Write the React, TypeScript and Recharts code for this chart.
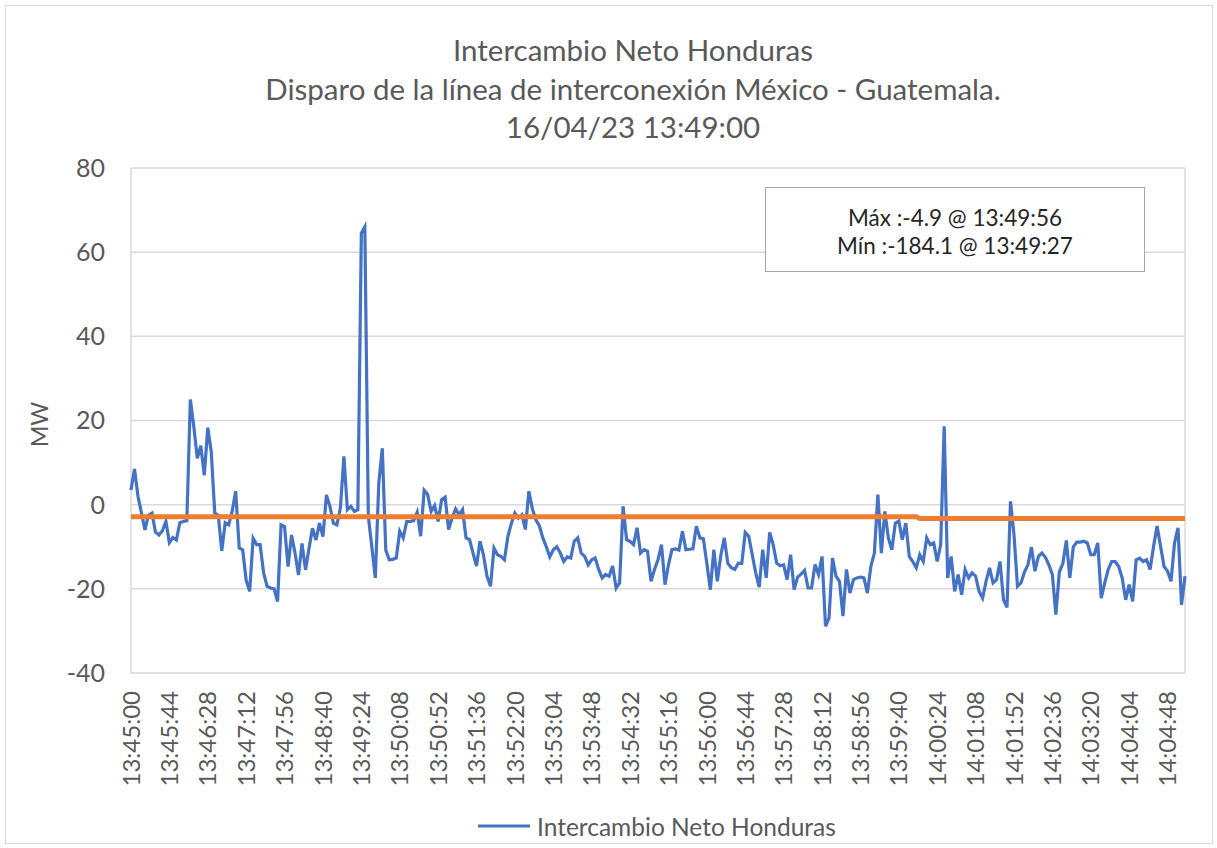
import { LineChart, Line, XAxis, YAxis, CartesianGrid } from "recharts";

// samples every 4 s starting 13:45:00
const START_SECONDS = 13 * 3600 + 45 * 60;
const STEP_SECONDS = 4;

const NETO_HN = [
  3.5, 8.5, 2, -2, -6, -2.5, -2, -6.5, -7.2, -6.2,
  -4, -9, -7.8, -8.4, -4.3, -4, -3.8, 25, 18.5, 11,
  14, 7, 18.3, 12.5, -2, -2.5, -11, -4.3, -4.8, -1.5,
  3.2, -10.3, -10.7, -18, -20.6, -8, -9.5, -9.5, -16.2, -19.4,
  -19.8, -20, -23, -4.8, -5.2, -14.7, -7.2, -11.5, -16.7, -9.2,
  -15.5, -10.4, -5.6, -8.4, -4.4, -7.6, 2.3, -0.4, -4.4, -4.8,
  -0.8, 11.5, -1.2, -0.4, -1.6, -1.2, 64.5, 66, -2.8, -10,
  -17.4, 5.1, 13.4, -10.8, -13.1, -13, -12.7, -6.3, -7.9, -4,
  -4, -3.8, -1.8, -7.5, 3.4, 2.4, -1.6, -0.2, -4, 1.2,
  1.8, -5.9, -3.2, -1, -2.4, -1.2, -7.9, -8.3, -11.5, -14.6,
  -8.7, -12, -17, -19.4, -10.3, -11.9, -12.3, -13.1, -7.5, -4.4,
  -2, -3.2, -2.4, -5.9, 3.2, -1, -3.6, -5, -7.9, -10,
  -12.4, -10.7, -10, -11.5, -13.5, -12.4, -12.7, -8.7, -7.9, -11.5,
  -12.3, -14.3, -13.1, -12.7, -15.4, -17.4, -16.6, -17, -14.6, -19.8,
  -18.6, -0.4, -8.3, -8.7, -9.5, -5.5, -11.5, -10.7, -11.1, -18.2,
  -15.4, -13.1, -9.5, -19, -14.3, -10.7, -10.5, -10.8, -6.3, -10.7,
  -10.6, -10.5, -5.1, -7.9, -8.1, -14, -20.2, -10.7, -18.2, -12,
  -7.9, -13.9, -15, -15.4, -13.9, -14, -6.6, -7.5, -11.9, -16.2,
  -19.6, -10.7, -17.4, -6.6, -9.5, -13.9, -14.5, -14.3, -17.8, -11.9,
  -20.2, -17.2, -16.5, -15.6, -19.8, -19.8, -14.2, -16.6, -12.3, -28.9,
  -26.9, -12.7, -17, -18.2, -26.5, -15.4, -21, -17.8, -17.4, -17.2,
  -17.4, -21, -14.6, -11.5, 2.4, -11.5, -1.6, -7.9, -10.7, -4.4,
  -3.9, -8.3, -4.4, -12.3, -13.5, -15, -11.9, -13.5, -7.9, -9.5,
  -9.1, -13.5, -9.5, 18.6, -17.4, -12.3, -20.6, -16.6, -21.4, -15.4,
  -17.4, -16.2, -17, -20.6, -22.2, -18.2, -15, -18.6, -17.8, -13.5,
  -22.6, -24.4, 0.8, -7.1, -19.4, -18.6, -16, -14.3, -10.1, -15.8,
  -12.3, -11.5, -12.5, -14.3, -16.6, -26.1, -16, -14, -8.5, -17.4,
  -10, -8.9, -8.9, -8.7, -9.1, -11.9, -11.9, -9.1, -22.2, -18.6,
  -15.4, -13.5, -13.5, -14.7, -17.4, -22.6, -19, -23, -13.1, -12.7,
  -13.5, -13.1, -15.4, -9.9, -5.1, -9.9, -14.7, -15.8, -18.2, -9.1,
  -5.5, -23.8, -17,
];

// orange reference level, steps slightly at 14:00:04
const REF_LEVELS = [-2.9, -3.3];
const REF_SWITCH_INDEX = 226;

const Y_TICKS = [-40, -20, 0, 20, 40, 60, 80];

const TITLE_LINES = [
  "Intercambio Neto Honduras",
  "Disparo de la línea de interconexión México - Guatemala.",
  "16/04/23 13:49:00",
];
const STATS_LINES = ["Máx :-4.9 @ 13:49:56", "Mín :-184.1 @ 13:49:27"];
const SERIES_NAME = "Intercambio Neto Honduras";

const FONT = "Lato, 'Noto Sans', sans-serif";
const TEXT = "#595959";
const GRID = "#d9d9d9";
const BLUE = "#4472c4";
const ORANGE = "#ed7d31";

const pad = (n: number) => String(n).padStart(2, "0");
function fmtTime(sec: number) {
  const h = Math.floor(sec / 3600);
  const m = Math.floor((sec % 3600) / 60);
  const s = sec % 60;
  return `${pad(h)}:${pad(m)}:${pad(s)}`;
}

const data = NETO_HN.map((v, i) => ({
  time: fmtTime(START_SECONDS + i * STEP_SECONDS),
  neto: v,
  ref: i < REF_SWITCH_INDEX ? REF_LEVELS[0] : REF_LEVELS[1],
}));

function TimeTick(props: any) {
  const { x, y, payload } = props;
  return (
    <g transform={`translate(${x},${y})`}>
      <text
        transform="rotate(-90)"
        x={-18}
        dy="0.36em"
        textAnchor="end"
        fill={TEXT}
        fontSize={24}
        fontFamily={FONT}
      >
        {payload.value}
      </text>
    </g>
  );
}

function MwLabel(props: any) {
  const vb = props.viewBox || { x: 31, y: 168, width: 100, height: 505 };
  const cx = vb.x + 9;
  const cy = vb.y + vb.height / 2 + 4;
  return (
    <text
      x={cx}
      y={cy}
      transform={`rotate(-90 ${cx} ${cy})`}
      textAnchor="middle"
      dy="0.36em"
      fill={TEXT}
      fontSize={23}
      fontFamily={FONT}
    >
      MW
    </text>
  );
}

export default function App() {
  return (
    <div
      style={{
        position: "absolute",
        left: 0,
        top: 0,
        width: 1217,
        height: 848,
        background: "#fff",
        fontFamily: FONT,
      }}
    >
      <div
        style={{
          position: "absolute",
          left: 5,
          top: 5,
          width: 1206,
          height: 837,
          border: `1px solid ${GRID}`,
        }}
      />
      <LineChart
        width={1217}
        height={848}
        data={data}
        margin={{ top: 168, right: 32, bottom: 55, left: 31 }}
      >
        <CartesianGrid
          stroke={GRID}
          strokeWidth={1.5}
          verticalCoordinatesGenerator={({ offset }: any) => [
            offset.left,
            offset.left + offset.width,
          ]}
        />
        <XAxis
          dataKey="time"
          interval={10}
          tick={<TimeTick />}
          tickLine={false}
          axisLine={false}
          tickSize={0}
          tickMargin={0}
          height={120}
        />
        <YAxis
          type="number"
          domain={[-40, 80]}
          ticks={Y_TICKS}
          width={100}
          tickLine={false}
          axisLine={false}
          tickSize={0}
          tickMargin={26}
          tick={{ fill: TEXT, fontSize: 25, fontFamily: FONT }}
          label={{ content: <MwLabel /> }}
        />
        <Line
          type="linear"
          dataKey="neto"
          name={SERIES_NAME}
          stroke={BLUE}
          strokeWidth={3.2}
          dot={false}
          activeDot={false}
          isAnimationActive={false}
        />
        <Line
          type="linear"
          dataKey="ref"
          stroke={ORANGE}
          strokeWidth={5}
          dot={false}
          activeDot={false}
          legendType="none"
          isAnimationActive={false}
        />
      </LineChart>

      {/* title */}
      <div
        style={{
          position: "absolute",
          left: 133,
          top: 31,
          width: 1000,
          textAlign: "center",
          color: TEXT,
          fontSize: 29.5,
          lineHeight: "38.5px",
        }}
      >
        {TITLE_LINES.map((t) => (
          <div key={t}>{t}</div>
        ))}
      </div>

      {/* max / min box */}
      <div
        style={{
          position: "absolute",
          left: 765,
          top: 187,
          width: 380,
          height: 85,
          border: "1.5px solid #a6a6a6",
          background: "#fff",
          textAlign: "center",
          color: "#262626",
          fontSize: 22.5,
          lineHeight: "28px",
          paddingTop: 16,
          boxSizing: "border-box",
        }}
      >
        {STATS_LINES.map((t) => (
          <div key={t}>{t}</div>
        ))}
      </div>

      {/* legend */}
      <div
        style={{
          position: "absolute",
          left: 478,
          top: 812,
          height: 28,
          display: "flex",
          alignItems: "center",
          color: TEXT,
          fontSize: 24.5,
        }}
      >
        <svg width={52} height={6} style={{ marginRight: 7 }}>
          <line x1={0} y1={3} x2={52} y2={3} stroke={BLUE} strokeWidth={3} />
        </svg>
        <span>{SERIES_NAME}</span>
      </div>
    </div>
  );
}
